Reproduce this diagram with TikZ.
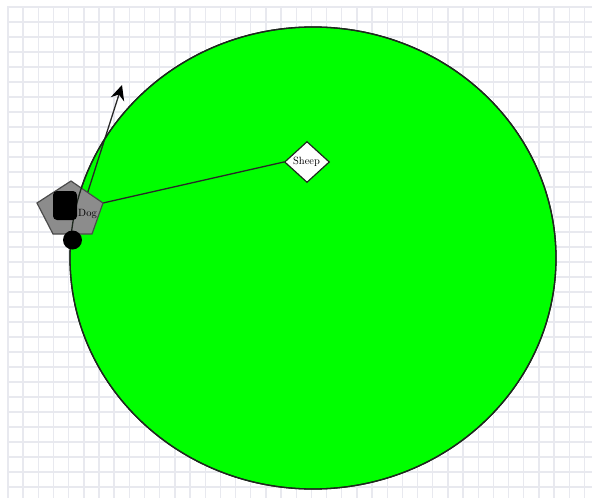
\documentclass[tikz,border=0pt]{standalone}
\usetikzlibrary{shapes.geometric,arrows.meta}
\definecolor{gridc}{RGB}{232,233,239}
\definecolor{fieldgreen}{RGB}{0,255,0}
\definecolor{edgec}{RGB}{30,40,30}
\definecolor{doggray}{RGB}{140,140,140}
\definecolor{dogedge}{RGB}{75,75,75}
\definecolor{linec}{RGB}{40,40,40}
\tikzset{
  gridline/.style={draw=gridc, line width=1.4pt},
  fieldedge/.style={draw=edgec, line width=1.3pt},
  field/.style={ellipse, fill=fieldgreen, fieldedge, minimum width=486pt, minimum height=462pt, inner sep=0pt},
  sheepbox/.style={diamond, draw=edgec, fill=white, line width=1.2pt, minimum width=45pt, minimum height=41pt, inner sep=0pt},
  dogbody/.style={fill=doggray, draw=dogedge, line width=1.2pt},
  connector/.style={draw=linec, line width=1.3pt},
  heading/.style={draw=linec, line width=1.3pt, -{Stealth[length=15pt,width=14pt,inset=5pt,black]}},
  labeltext/.style={font=\fontsize{10.5}{12}\selectfont, inner sep=0pt, anchor=base}
}
\begin{document}
\begin{tikzpicture}[x=1pt,y=-1pt]
\useasboundingbox (0,0) rectangle (598,498);
% grid
\foreach \k in {0,...,38} { \draw[gridline] ({8+15.17*\k},7) -- ({8+15.17*\k},498); }
\foreach \k in {0,...,32} { \draw[gridline] (7,{7+15*\k}) -- (592,{7+15*\k}); }
% field
\node[field] (field) at (313,258) {};
% positions
\coordinate (dogpos) at (72.5,240);
\coordinate (tip) at (122,85);
\coordinate (dogT) at (71,181);
\coordinate (dogR) at (103,203);
\coordinate (dogBR) at (92,234);
\coordinate (dogBL) at (53,234);
\coordinate (dogL) at (37,203);
% sheep
\node[sheepbox] (sheep) at (307,162) {};
\node[labeltext] (sheeplabel) at (306.5,164) {Sheep};
% heading arrow
\draw[heading] (dogpos) -- (tip);
% dog-sheep connector
\draw[connector] (dogR) -- (sheep.west);
% dog body
\draw[dogbody] (dogT) -- (dogR) -- (dogBR) -- (dogBL) -- (dogL) -- cycle;
% field edge seen over the dog
\draw[fieldedge] (field.center) ellipse [x radius=243, y radius=231];
\node[fill=black, rounded corners=4pt, minimum width=24pt, minimum height=29pt, inner sep=0pt] (dogsquare) at (65,205.5) {};
\node[circle, fill=black, minimum size=19pt, inner sep=0pt] (doghead) at (dogpos) {};
\node[labeltext] (doglabel) at (87.5,216) {Dog};
\end{tikzpicture}
\end{document}
